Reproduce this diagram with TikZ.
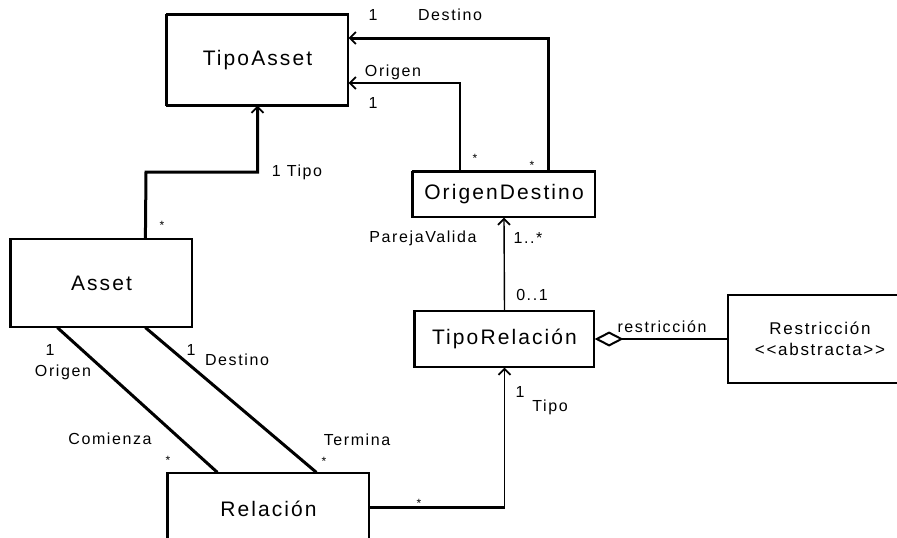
\documentclass[tikz,border=0pt]{standalone}
\usepackage{fontspec}
\newfontfamily\umlfont{Liberation Sans}[LetterSpace=10]
\usetikzlibrary{arrows.meta}
\begin{document}
\begin{tikzpicture}[x=1pt,y=-1pt,
  cls/.style={draw, line width=1.2pt, inner sep=0pt,
    font=\umlfont\fontsize{21}{21}\selectfont},
  lbl/.style={font=\umlfont\fontsize{16}{16}\selectfont, inner sep=0pt},
  mult/.style={font=\umlfont\fontsize{12}{12}\selectfont, inner sep=0pt},
  thickline/.style={line width=3pt},
  thinline/.style={line width=1.4pt},
  nav/.style={-{Straight Barb[length=6pt,width=12pt,line width=1.8pt]}},
  heavyedge/.style={line width=3pt}]
\clip (0,0) rectangle (897,538);
\fill[white] (0,0) rectangle (897,538);

% classes
\node[cls, minimum width=181pt, minimum height=90pt] (TipoAsset) at (257.5,60) {TipoAsset};
\node[cls, minimum width=182pt, minimum height=45pt] (OD) at (504,194.5) {OrigenDestino};
\node[cls, minimum width=181pt, minimum height=88pt] (Asset) at (101.5,283) {Asset};
\node[cls, minimum width=179pt, minimum height=56pt] (TR) at (504.5,339) {TipoRelación};
\node[cls, minimum width=201pt, minimum height=72pt] (Rel) at (268.5,509) {Relación};
\node[cls, minimum width=184pt, minimum height=88pt, align=center,
  font=\umlfont\fontsize{17}{21}\selectfont] (Restr) at (820,339)
  {Restricción\\<<abstracta>>};

% heavier left / top borders
\draw[heavyedge] (TipoAsset.north west) -- (TipoAsset.south west);
\draw[line width=2pt] (TipoAsset.north west) -- (TipoAsset.north east);
\draw[line width=2pt] (TipoAsset.south west) -- (TipoAsset.south east);
\draw[heavyedge] (OD.north west) -- (OD.south west);
\draw[line width=2.4pt] (OD.north west) -- (OD.north east);
\draw[heavyedge] (Asset.north west) -- (Asset.south west);
\draw[heavyedge] (TR.north west) -- (TR.south west);
\draw[heavyedge] (Rel.north west) -- (Rel.south west);

% Asset -> TipoAsset
\coordinate (tipoBend) at (146,172);
\draw[thickline, nav] ([xshift=135pt]Asset.north west) -- (tipoBend) -| (TipoAsset.south);

% OrigenDestino -> TipoAsset
\coordinate (dstBend) at (548,38);
\draw[thickline, nav] (OD.north -| dstBend) -- (dstBend) -- (TipoAsset.east |- dstBend);
\coordinate (orgBend) at (460,83);
\draw[thinline, nav] (OD.north -| orgBend) -- (orgBend) -- (TipoAsset.east |- orgBend);

% TipoRelacion -> OrigenDestino
\draw[thinline, nav] (TR.north) -- (OD.south);

% Relacion -> TipoRelacion
\coordinate (relBend) at (504.5,507);
\draw[thickline] (Rel.east |- relBend) -- (relBend);
\draw[thinline, nav] (relBend) -- (TR.south);

% aggregation TipoRelacion <>-- Restriccion
\draw[thinline, {Diamond[open,length=29pt,width=15pt,line width=2pt]}-] (TR.east) -- (Restr.west);

% Asset -- Relacion
\draw[thickline] ([xshift=47pt]Asset.south west) -- ([xshift=50pt]Rel.north west);
\draw[thickline] ([xshift=135pt]Asset.south west) -- ([xshift=149pt]Rel.north west);

% labels
\node[lbl] (lDst1) at (373,15) {1};
\node[lbl] (lDst) at (450,15) {Destino};
\node[lbl] (lOrg) at (393,72) {Origen};
\node[lbl] (lOrg1) at (373,103) {1};
\node[lbl] (lTipo) at (297,172) {1 Tipo};
\node[lbl] (lPar) at (423,238) {ParejaValida};
\node[lbl] (lPar1) at (528,238) {1..*};
\node[lbl] (lPar0) at (532,295) {0..1};
\node[lbl] (lRes) at (662,327) {restricción};
\node[lbl] (lTr1) at (520,392) {1};
\node[lbl] (lTr) at (550,407) {Tipo};
\node[lbl] (lAo1) at (50,350) {1};
\node[lbl] (lAo) at (63,372) {Origen};
\node[lbl] (lAd1) at (191,350) {1};
\node[lbl] (lAd) at (237,360) {Destino};
\node[lbl] (lCom) at (110,439) {Comienza};
\node[lbl] (lTer) at (357,440) {Termina};

% multiplicity stars
\node[mult] (s1) at (162,225) {*};
\node[mult] (s2) at (475,158) {*};
\node[mult] (s3) at (532,165) {*};
\node[mult] (s4) at (168,460) {*};
\node[mult] (s5) at (324,461) {*};
\node[mult] (s6) at (419,503) {*};
\end{tikzpicture}
\end{document}
